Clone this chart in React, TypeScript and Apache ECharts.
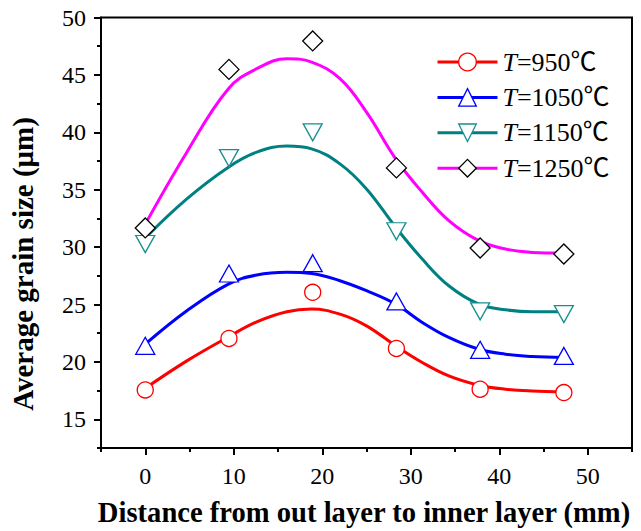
import React, { useEffect, useRef } from "react";
import * as echarts from "echarts";

// Measured sample positions (mm)
const markerX = [0, 9.46, 18.92, 28.38, 37.84, 47.3];
const t950 = [17.56, 22.04, 26.06, 21.17, 17.62, 17.33];
const t1050 = [21.4, 27.7, 28.6, 25.27, 21.05, 20.52];
const t1150 = [30.27, 37.75, 40.0, 31.38, 24.4, 24.16];
const t1250 = [31.67, 45.48, 47.96, 36.9, 29.92, 29.4];

// Fitted curves
const fitX = [0, 4.7, 9.4, 12.6, 16, 18.8, 22, 25, 28.3, 31.3, 34.3, 37.7, 40.7, 43.7, 47.3];
const fit950 = [17.7, 20.09, 22.18, 23.49, 24.37, 24.6, 24.16, 23.14, 21.4, 19.95, 18.78, 17.97, 17.62, 17.47, 17.4];
const fit1050 = [21.54, 24.45, 26.78, 27.57, 27.8, 27.7, 27.07, 26.2, 25.03, 23.44, 22.13, 21.1, 20.67, 20.47, 20.38];
const fit1150 = [30.8, 34.2, 36.96, 38.27, 38.8, 38.56, 37.25, 35.07, 31.73, 28.96, 26.63, 25.03, 24.54, 24.37, 24.37];
const fit1250 = [32.0, 38.27, 43.8, 45.54, 46.41, 46.12, 44.67, 41.76, 37.69, 34.78, 32.31, 30.56, 29.83, 29.54, 29.48];

const seriesNames = ["T=950℃", "T=1050℃", "T=1150℃", "T=1250℃"];
const xMajor = [0, 10, 20, 30, 40, 50];
const xMinor = [-5, 5, 15, 25, 35, 45, 55];
const yMajor = [15, 20, 25, 30, 35, 40, 45, 50];
const yMinor = [12.5, 17.5, 22.5, 27.5, 32.5, 37.5, 42.5, 47.5];

const lineColors = ["#ff0000", "#0000ff", "#008080", "#ff00ff"];
const markerColors = ["#ff0000", "#0000ff", "#178f8f", "#000000"];
const symbols = ["circle", "triangle", "path://M0,0L20,0L10,17Z", "diamond"];
const symbolSizes: any[] = [16, [19, 17], [19, 17], [20, 20]];

const serif = "'Liberation Serif', 'Times New Roman', serif";
const legendFont = "'Liberation Serif', 'Noto Sans CJK SC', serif";

export default function App() {
  const ref = useRef<HTMLDivElement>(null);
  useEffect(() => {
    document.body.style.margin = "0";
    if (!ref.current) return;
    const chart = echarts.init(ref.current, undefined, { renderer: "svg" });
    const fits = [fit950, fit1050, fit1150, fit1250];
    const marks = [t950, t1050, t1150, t1250];
    const series: any[] = [];
    fits.forEach((f, i) => {
      series.push({
        name: "fit" + i,
        type: "line",
        smooth: 0.4,
        showSymbol: false,
        symbol: "none",
        data: fitX.map((x, j) => [x, f[j]]),
        lineStyle: { color: lineColors[i], width: 3 },
        z: 2,
        silent: true,
      });
    });
    marks.forEach((m, i) => {
      series.push({
        name: seriesNames[i],
        type: "line",
        data: markerX.map((x, j) => [x, m[j]]),
        symbol: symbols[i],
        symbolSize: symbolSizes[i],
        showSymbol: true,
        lineStyle: { opacity: 0, width: 0 },
        itemStyle: { color: "#ffffff", borderColor: markerColors[i], borderWidth: 1.3 },
        z: 5,
        silent: true,
      });
    });

    const axisCommon = {
      type: "value",
      gridIndex: 0,
      splitLine: { show: false },
    };

    chart.setOption({
      animation: false,
      backgroundColor: "#ffffff",
      grid: {
        left: 101,
        top: 17.5,
        right: 9,
        bottom: 83,
        show: true,
        borderColor: "#000",
        borderWidth: 2,
        backgroundColor: "transparent",
      },
      legend: {
        orient: "vertical",
        left: 431,
        top: 44,
        padding: 5,
        itemWidth: 60,
        itemHeight: 22,
        itemGap: 9.4,
        selectedMode: false,
        textStyle: {
          fontFamily: legendFont,
          fontSize: 26,
          color: "#000",
          rich: {
            i: { fontFamily: serif, fontSize: 26, fontStyle: "italic", color: "#000" },
          },
        },
        formatter: (name: string) => "{i|T}" + name.slice(1),
        data: seriesNames.map((n, i) => ({
          name: n,
          lineStyle: { color: lineColors[i], width: 3, opacity: 1 },
          itemStyle: { color: "#ffffff", borderColor: markerColors[i], borderWidth: 1.3 },
        })),
      },
      xAxis: [
        {
          ...axisCommon,
          min: -5,
          max: 55,
          position: "bottom",
          axisLine: { show: true, onZero: false, lineStyle: { color: "#000", width: 2 } },
          axisTick: { show: true, inside: false, length: 7, customValues: xMajor, lineStyle: { color: "#000", width: 2 } },
          axisLabel: { show: true, customValues: xMajor, margin: 16, fontFamily: serif, fontSize: 24, color: "#000" },
        },
        {
          ...axisCommon,
          min: -5,
          max: 55,
          position: "bottom",
          offset: 0,
          axisLine: { show: false, onZero: false },
          axisTick: { show: true, inside: false, length: 4, customValues: xMinor, lineStyle: { color: "#000", width: 2 } },
          axisLabel: { show: false },
        },
      ],
      yAxis: [
        {
          ...axisCommon,
          min: 12.5,
          max: 50,
          position: "left",
          axisLine: { show: true, onZero: false, lineStyle: { color: "#000", width: 2 } },
          axisTick: { show: true, inside: false, length: 7, customValues: yMajor, lineStyle: { color: "#000", width: 2 } },
          axisLabel: { show: true, customValues: yMajor, margin: 15, fontFamily: serif, fontSize: 24, color: "#000" },
        },
        {
          ...axisCommon,
          min: 12.5,
          max: 50,
          position: "left",
          offset: 0,
          axisLine: { show: false, onZero: false },
          axisTick: { show: true, inside: false, length: 4, customValues: yMinor, lineStyle: { color: "#000", width: 2 } },
          axisLabel: { show: false },
        },
      ],
      graphic: [
        {
          type: "text",
          x: 364,
          y: 512,
          style: {
            text: "Distance from out layer to inner layer (mm)",
            fontFamily: serif,
            fontWeight: "bold",
            fontSize: 28.6,
            fill: "#000",
            align: "center",
            verticalAlign: "middle",
          },
        },
        {
          type: "text",
          x: 23,
          y: 264,
          rotation: Math.PI / 2,
          style: {
            text: "Average grain size (μm)",
            fontFamily: serif,
            fontWeight: "bold",
            fontSize: 29,
            fill: "#000",
            align: "center",
            verticalAlign: "middle",
          },
        },
      ],
      series,
    });
    return () => chart.dispose();
  }, []);
  return <div ref={ref} style={{ width: 641, height: 531 }} />;
}
